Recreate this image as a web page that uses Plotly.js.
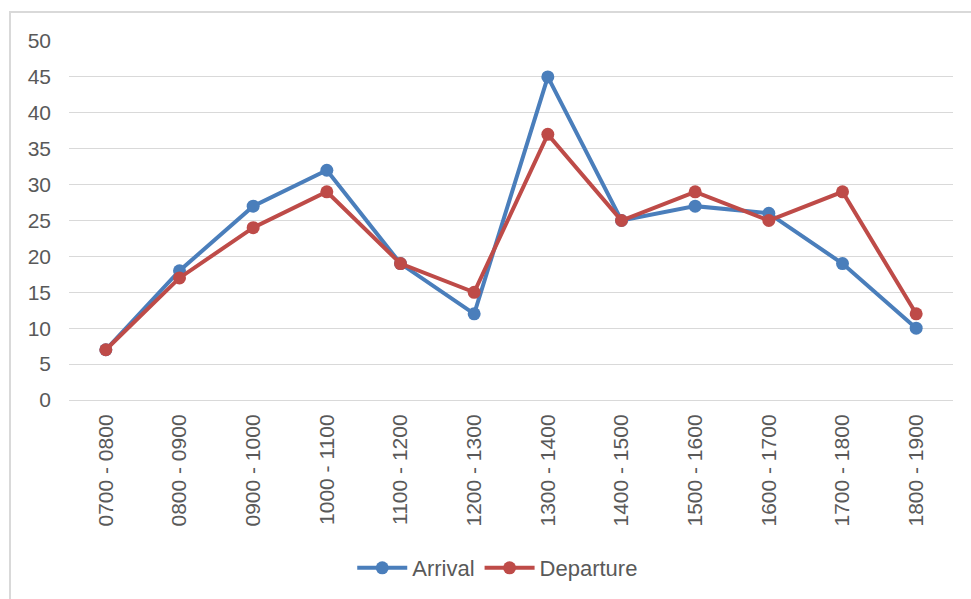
<!DOCTYPE html>
<html><head><meta charset="utf-8">
<script src="https://cdn.plot.ly/plotly-3.0.1.min.js"></script>
<style>
body{margin:0;padding:0;background:#fff;}
#chart{width:971px;height:599px;position:absolute;left:0;top:0;}
#frame{position:absolute;left:9px;top:11px;width:980px;height:600px;border:2px solid #d9d9d9;pointer-events:none;}
</style></head>
<body>
<div id="chart"></div>
<div id="frame"></div>
<script>
const categories = ["0700 - 0800","0800 - 0900","0900 - 1000","1000 - 1100","1100 - 1200","1200 - 1300","1300 - 1400","1400 - 1500","1500 - 1600","1600 - 1700","1700 - 1800","1800 - 1900"];
const arrival = [7,18,27,32,19,12,45,25,27,26,19,10];
const departure = [7,17,24,29,19,15,37,25,29,25,29,12];

const traces = [
  {x:categories, y:arrival, name:"Arrival", type:"scatter", mode:"lines+markers",
   line:{color:"#4A7EBB", width:4}, marker:{color:"#4A7EBB", size:13}},
  {x:categories, y:departure, name:"Departure", type:"scatter", mode:"lines+markers",
   line:{color:"#BE4B48", width:4}, marker:{color:"#BE4B48", size:13}}
];
const layout = {
  width:971, height:599,
  margin:{l:69, r:18, t:41, b:198},
  paper_bgcolor:"rgba(0,0,0,0)", plot_bgcolor:"#fff",
  font:{family:"Liberation Sans, Arial, sans-serif", size:21, color:"#595959"},
  showlegend:true,
  legend:{orientation:"h", x:0.485, xanchor:"center", y:-0.464, yanchor:"middle", itemwidth:50, font:{size:22, color:"#595959"}},
  xaxis:{type:"category", range:[-0.5, 11.5], tickangle:-90, showgrid:false, showline:true, linecolor:"#d9d9d9", linewidth:1,
    ticks:"", ticklabelstandoff:5, zeroline:false, tickfont:{size:21}},
  yaxis:{range:[0,50], dtick:5, tick0:0, showgrid:true, gridcolor:"#d9d9d9", gridwidth:1, zeroline:false,
    showline:false, ticks:"", ticklabelstandoff:17, tickfont:{size:21}}
};
Plotly.newPlot("chart", traces, layout, {displayModeBar:false, staticPlot:true});
</script>
</body></html>
